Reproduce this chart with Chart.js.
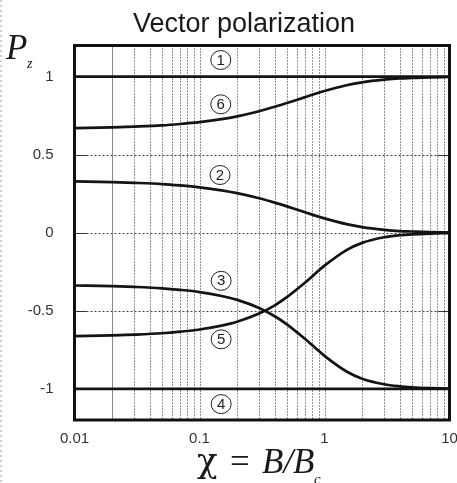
<!DOCTYPE html>
<html>
<head>
<meta charset="utf-8">
<script src="https://cdn.jsdelivr.net/npm/chart.js@4.4.0/dist/chart.umd.min.js"></script>
<style>
html,body{margin:0;padding:0;background:#fff;}
#c{display:block;}
</style>
</head>
<body>
<canvas id="c" width="457" height="483"></canvas>
<script>
// ---- data ----
const chi = [0.01,0.02,0.03,0.05,0.07,0.1,0.15,0.2,0.3,0.4,0.5,0.7,1,1.5,2,3,4,5,7,10];
const state6 = [0.671,0.675,0.680,0.688,0.697,0.709,0.728,0.746,0.779,0.807,0.831,0.869,0.908,0.945,0.964,0.981,0.989,0.992,0.996,0.998];
const state2 = [0.329,0.325,0.320,0.312,0.303,0.291,0.272,0.254,0.221,0.193,0.169,0.131,0.092,0.055,0.036,0.019,0.011,0.008,0.004,0.002];
const state3 = [-0.338,-0.342,-0.347,-0.356,-0.366,-0.380,-0.405,-0.430,-0.482,-0.535,-0.587,-0.681,-0.789,-0.889,-0.935,-0.971,-0.984,-0.990,-0.995,-0.998];
const state5 = [-0.662,-0.658,-0.653,-0.644,-0.634,-0.620,-0.595,-0.570,-0.518,-0.465,-0.413,-0.319,-0.211,-0.111,-0.065,-0.029,-0.016,-0.010,-0.005,-0.002];
const chiFlat = [0.01,10];
const state1 = [1,1];
const state4 = [-1,-1];

const xTicks = [0.01,0.1,1,10];
const xTickLabels = ['0.01','0.1','1','10'];
const yTicks = [-1,-0.5,0,0.5,1];
const yTickLabels = ['-1','-0.5','0','0.5','1'];
const xGridDotted = [0.03,0.04,0.05,0.06,0.07,0.08,0.09,0.1,0.2,0.3,0.4,0.5,0.6,0.7,0.8,0.9,1,2,3,4,5,6,7,8,9];
const xGridSolid = [0.02];
const yGrid = [-0.5,0,0.5];

const stateLabels = ['1','6','2','3','5','4'];
const stateLabelChi = [0.148,0.148,0.146,0.149,0.149,0.149];
const stateLabelP = [1.107,0.823,0.370,-0.308,-0.683,-1.098];

const titleText = 'Vector polarization';

// ---- build ----
const pts = (xs, ys) => xs.map((x,i)=>({x:x, y:ys[i]}));
const lineStyle = {borderColor:'#141414', borderWidth:2.7, pointRadius:0, fill:false, cubicInterpolationMode:'monotone'};

const decor = {
  id:'decor',
  beforeDraw(chart){
    const ctx = chart.ctx;
    ctx.save();
    ctx.fillStyle = '#fff';
    ctx.fillRect(0,0,chart.width,chart.height);
    ctx.strokeStyle = '#cfcfcf';
    ctx.lineWidth = 2;
    ctx.setLineDash([2,3]);
    ctx.beginPath(); ctx.moveTo(1,0); ctx.lineTo(1,chart.height); ctx.stroke();
    ctx.restore();
  },
  beforeDatasetsDraw(chart){
    const {ctx, chartArea:a, scales:{x, y}} = chart;
    ctx.save();
    ctx.beginPath(); ctx.rect(a.left,a.top,a.right-a.left,a.bottom-a.top); ctx.clip();
    ctx.lineWidth = 1;
    ctx.strokeStyle = '#2a2a2a';
    ctx.setLineDash([1,2]);
    xGridDotted.forEach(v=>{
      const px = Math.round(x.getPixelForValue(v))+0.5;
      ctx.beginPath(); ctx.moveTo(px,a.top); ctx.lineTo(px,a.bottom); ctx.stroke();
    });
    ctx.setLineDash([]);
    ctx.strokeStyle = '#8a8a8a';
    xGridSolid.forEach(v=>{
      const px = Math.round(x.getPixelForValue(v))+0.5;
      ctx.beginPath(); ctx.moveTo(px,a.top); ctx.lineTo(px,a.bottom); ctx.stroke();
    });
    ctx.strokeStyle = '#444';
    ctx.setLineDash([2,2]);
    yGrid.forEach(v=>{
      const py = Math.round(y.getPixelForValue(v))+0.5;
      ctx.beginPath(); ctx.moveTo(a.left,py); ctx.lineTo(a.right,py); ctx.stroke();
    });
    ctx.setLineDash([]);
    ctx.strokeStyle = '#333';
    yGrid.forEach(v=>{
      const py = Math.round(y.getPixelForValue(v))+0.5;
      ctx.beginPath(); ctx.moveTo(a.left,py); ctx.lineTo(a.left+12,py); ctx.stroke();
      ctx.beginPath(); ctx.moveTo(a.right-12,py); ctx.lineTo(a.right,py); ctx.stroke();
    });
    ctx.restore();
  },
  afterDatasetsDraw(chart){
    const {ctx, chartArea:a, scales:{x, y}} = chart;
    ctx.save();
    ctx.strokeStyle = '#111';
    ctx.lineWidth = 3;
    ctx.strokeRect(a.left,a.top,a.right-a.left,a.bottom-a.top);
    ctx.lineWidth = 1;
    ctx.font = '15px "Liberation Sans", Arial, sans-serif';
    ctx.textAlign = 'center';
    ctx.textBaseline = 'middle';
    stateLabels.forEach((t,i)=>{
      const px = x.getPixelForValue(stateLabelChi[i]);
      const py = y.getPixelForValue(stateLabelP[i]);
      ctx.fillStyle = '#fff';
      ctx.beginPath(); ctx.ellipse(px,py,10,9.5,0,0,Math.PI*2); ctx.fill();
      ctx.strokeStyle = '#222';
      ctx.stroke();
      ctx.fillStyle = '#222';
      ctx.fillText(t,px,py+0.5);
    });
    ctx.restore();
  },
  afterDraw(chart){
    const ctx = chart.ctx;
    ctx.save();
    ctx.fillStyle = '#1a1a1a';
    ctx.textBaseline = 'alphabetic';
    ctx.font = '27px "Liberation Sans", Arial, sans-serif';
    ctx.textAlign = 'center';
    ctx.fillText(titleText, 244, 32);
    ctx.textAlign = 'left';
    ctx.font = 'italic 35px "Liberation Serif", "Times New Roman", serif';
    ctx.fillText('P', 6, 59);
    ctx.font = 'italic 14px "Liberation Serif", "Times New Roman", serif';
    ctx.fillText('z', 27, 68);
    ctx.font = '34px "DejaVu Serif", serif';
    ctx.fillText('χ', 197, 472);
    ctx.font = '35px "Liberation Serif", "Times New Roman", serif';
    ctx.fillText('=', 230, 473);
    ctx.font = 'italic 35px "Liberation Serif", "Times New Roman", serif';
    ctx.fillText('B/B', 262, 473);
    ctx.font = 'italic 15px "Liberation Serif", "Times New Roman", serif';
    ctx.fillText('c', 314, 484);
    ctx.restore();
  }
};

new Chart(document.getElementById('c'), {
  type:'line',
  data:{
    datasets:[
      {label:'1', data:pts(chiFlat,state1), ...lineStyle},
      {label:'6', data:pts(chi,state6), ...lineStyle},
      {label:'2', data:pts(chi,state2), ...lineStyle},
      {label:'3', data:pts(chi,state3), ...lineStyle},
      {label:'5', data:pts(chi,state5), ...lineStyle},
      {label:'4', data:pts(chiFlat,state4), ...lineStyle}
    ]
  },
  options:{
    responsive:false,
    devicePixelRatio:1,
    animation:false,
    layout:{padding:{top:45.5, right:7.5, bottom:0, left:0}},
    plugins:{legend:{display:false}, tooltip:{enabled:false}, title:{display:false}},
    scales:{
      x:{
        type:'logarithmic', min:0.01, max:10,
        grid:{display:false}, border:{display:false},
        afterBuildTicks(s){ s.ticks = xTicks.map(v=>({value:v})); },
        afterFit(s){ s.height = 63; s.paddingLeft = 0; s.paddingRight = 0; },
        ticks:{
          autoSkip:false, maxRotation:0, padding:2,
          color:'#333', font:{family:'"Liberation Sans", Arial, sans-serif', size:15},
          callback:(v,i)=>xTickLabels[i]
        }
      },
      y:{
        type:'linear', min:-1.2, max:1.2,
        grid:{display:false}, border:{display:false},
        afterBuildTicks(s){ s.ticks = yTicks.map(v=>({value:v})); },
        afterFit(s){ s.width = 74.5; },
        ticks:{
          padding:13,
          color:'#333', font:{family:'"Liberation Sans", Arial, sans-serif', size:15},
          callback:(v,i)=>yTickLabels[i]
        }
      }
    }
  },
  plugins:[decor]
});
</script>
</body>
</html>
